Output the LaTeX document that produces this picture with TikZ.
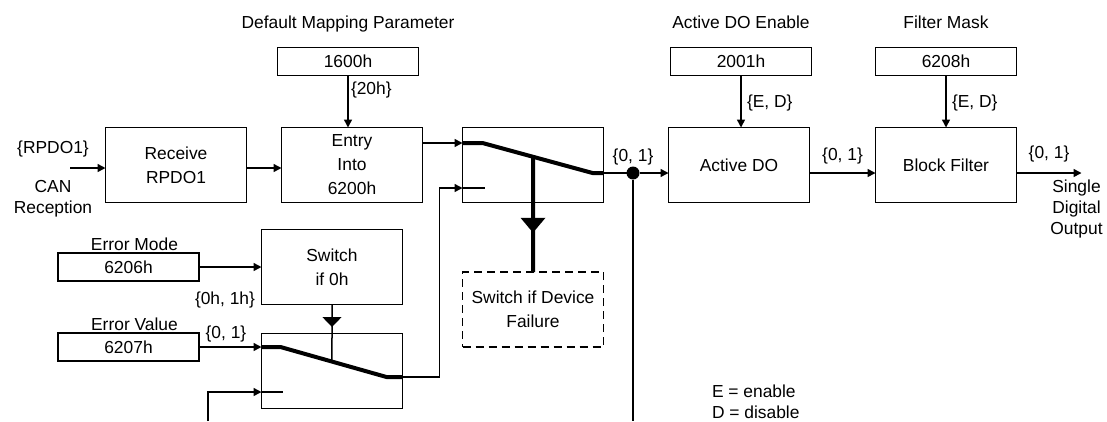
\documentclass[tikz,border=0pt]{standalone}
\usepackage{fontspec}
\setmainfont{Liberation Sans}
\usetikzlibrary{arrows.meta,positioning,calc,decorations.markings}

\begin{document}
\begin{tikzpicture}[
  x=1bp, y=-1bp,
  every node/.style={font=\fontsize{17.4bp}{24bp}\selectfont, inner sep=0pt, outer sep=0pt},
  box/.style={draw, line width=1.5bp, minimum width=141bp, minimum height=75bp, align=center},
  parbox/.style={draw, line width=1.5bp, minimum width=141bp, minimum height=28bp},
  dashbox/.style={box, dash pattern=on 8bp off 5bp},
  tag/.style={text height=12.6bp, text depth=3.6bp},
  stack/.style={align=center, font=\fontsize{17.4bp}{21bp}\selectfont},
  arr/.style={-{Triangle[length=8bp,width=8bp]}, line width=1.5bp},
  wire/.style={line width=1.5bp},
  swline/.style={line width=4bp, line join=round},
  dot/.style={circle, fill, minimum size=13bp}
]
  \useasboundingbox (0,0) rectangle (1107,421);

  % main signal chain
  \node[box] (rcv) at (176,165) {Receive\\RPDO1};
  \node[box, right=35bp of rcv] (entry) {Entry\\Into\\6200h};
  \node[box, right=40bp of entry] (sw1) {};
  \node[box, right=65bp of sw1] (ado) {Active DO};
  \node[box, right=66bp of ado] (bf) {Block Filter};
  \node[dashbox, below=69.5bp of sw1] (fail) {Switch if Device\\Failure};

  % parameter objects
  \node[parbox, above=52bp of entry, xshift=-4bp] (p1600) {1600h};
  \node[parbox, above=52bp of ado, xshift=2bp] (p2001) {2001h};
  \node[parbox, above=52bp of bf] (p6208) {6208h};
  \node[tag, above=15bp of p1600] (hmap) {Default Mapping Parameter};
  \node[tag, above=15bp of p2001] (hado) {Active DO Enable};
  \node[tag, above=15bp of p6208] (hmask) {Filter Mask};

  % error path
  \node[box] (sw0) at (332,267) {Switch\\if 0h};
  \node[box, below=29bp of sw0] (sw2) {};
  \node[parbox, left=62.5bp of sw0] (p6206) {6206h};
  \node[parbox, below=52bp of p6206] (p6207) {6207h};
  \node[tag, above=-1bp of p6206, xshift=6bp] (hmode) {Error Mode};
  \node[tag, above=-1bp of p6207, xshift=6bp] (hval) {Error Value};
  \node[tag] (m0) at (225,300) {\{0h, 1h\}};
  \node[tag] (v0) at (226,334) {\{0, 1\}};

  % switch contacts
  \coordinate (a1in) at ($(sw1.west)+(0,-22)$);
  \coordinate (a1k) at ($(a1in)+(20,0)$);
  \coordinate (a1e) at ($(sw1.east)+(-11,8)$);
  \coordinate (a1out) at ($(sw1.east)+(0,8)$);
  \coordinate (b1in) at ($(sw1.west)+(0,23)$);
  \coordinate (ctl1) at (intersection of a1k--a1e and sw1.north--sw1.south);
  \coordinate (a2in) at (p6207.east -| sw2.west);
  \coordinate (a2k) at ($(a2in)+(19,0)$);
  \coordinate (a2e) at ($(sw2.east)+(-16,6)$);
  \coordinate (a2out) at ($(sw2.east)+(0,6)$);
  \coordinate (b2in) at ($(sw2.west)+(0,21)$);
  \coordinate (ctl2) at (intersection of a2k--a2e and sw0.south--sw2.south);

  % free ends
  \coordinate (canin) at (70,168);
  \coordinate (bot) at (0,421);
  \coordinate (fb) at (208,421);

  \node[tag, above=11bp of canin, xshift=-17bp] (rpdo) {\{RPDO1\}};
  \node[stack, below=12bp of canin, xshift=-17bp] (canrx) {CAN\\Reception};

  \draw[arr] (canin) -- (canin -| rcv.west);
  \draw[arr] (rcv.east |- canin) -- (entry.west |- canin);
  \draw[arr] (entry.east |- a1in) -- (a1in);
  \draw[swline] (a1in) -- (a1k) -- (a1e) -- (a1out);
  \draw[wire] (b1in) -- ++(22,0);
  \draw[swline, postaction={decorate}, decoration={markings,
      mark=at position 76bp with {\arrow{Triangle[length=15bp,width=24bp]}}}]
    (ctl1) -- (fail);

  \draw[arr] (p1600) -- (p1600 |- entry.north) node[tag, pos=0.27, right=3bp] {\{20h\}};
  \draw[arr] (p2001) -- (p2001 |- ado.north) node[tag, pos=0.53, right=6bp] {\{E, D\}};
  \draw[arr] (p6208) -- (p6208 |- bf.north) node[tag, pos=0.53, right=6bp] {\{E, D\}};

  % junction and output
  \node[dot] (jn) at ($(a1out)+(29.5,0)$) {};
  \node[tag, above=1bp of jn] (jlbl) {\{0, 1\}};
  \draw[wire] (a1out) -- (jn);
  \draw[arr] (jn) -- (jn -| ado.west);
  \draw[wire] (jn) -- (jn |- bot);
  \draw[arr] (jn -| ado.east) -- (jn -| bf.west) node[tag, midway, above=9bp] {\{0, 1\}};
  \coordinate (dout) at ($(jn -| bf.east)+(65,0)$);
  \draw[arr] (jn -| bf.east) -- (dout) node[tag, midway, above=11bp] {\{0, 1\}};
  \node[stack, below=6.5bp of dout, xshift=-5bp] (sdo) {Single\\Digital\\Output};

  % lower switch
  \draw[arr] (p6206) -- (p6206 -| sw0.west);
  \draw[arr] (p6207) -- (a2in);
  \draw[swline] (a2in) -- (a2k) -- (a2e) -- (a2out);
  \draw[wire] (b2in) -- ++(21,0);
  \draw[arr] (fb) |- (b2in);
  \draw[wire, postaction={decorate}, decoration={markings,
      mark=at position 22.5bp with {\arrow{Triangle[length=10bp,width=19bp]}}}]
    (sw0) -- (ctl2);
  \draw[arr] (a2out) -- ++(37,0) |- (b1in);

  \node[stack, align=left, anchor=north west] (key) at (712,385) {E = enable\\D = disable};
\end{tikzpicture}
\end{document}
